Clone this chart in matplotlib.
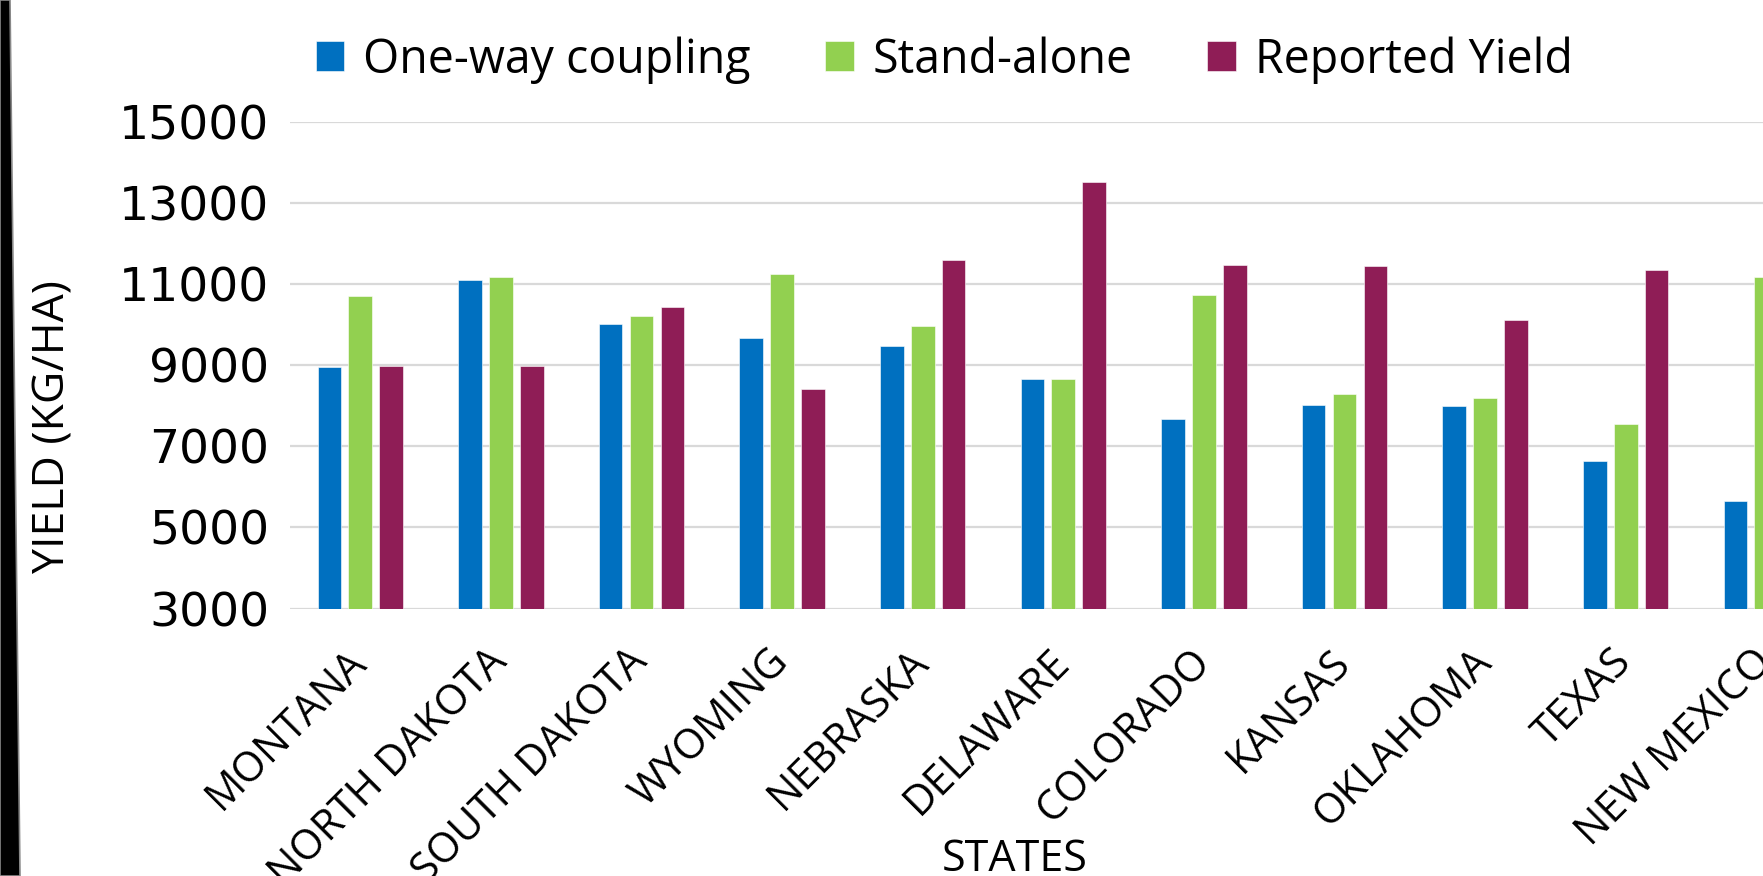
import numpy as np
import matplotlib
matplotlib.use("Agg")
import matplotlib.pyplot as plt
from matplotlib.patches import Polygon

# yield by state, kg/ha
states = ["MONTANA", "NORTH DAKOTA", "SOUTH DAKOTA", "WYOMING", "NEBRASKA",
          "DELAWARE", "COLORADO", "KANSAS", "OKLAHOMA", "TEXAS", "NEW MEXICO"]
one_way = [8950, 11100, 10010, 9670, 9460, 8660, 7670, 8010, 7980, 6640, 5660]
stand_alone = [10710, 11180, 10200, 11250, 9960, 8660, 10720, 8280, 8180, 7550, 11170]
reported = [8970, 8980, 10420, 8400, 11590, 13510, 11460, 11440, 10110, 11340, np.nan]

yticks = [3000, 5000, 7000, 9000, 11000, 13000, 15000]

colors = ["#0070C0", "#92D050", "#8F1D56"]
series = [("One-way coupling", one_way),
          ("Stand-alone", stand_alone),
          ("Reported Yield", reported)]

W, H = 1763, 876
fig = plt.figure(figsize=(W / 100, H / 100), dpi=100)

# axes run past the right edge of the figure
left_px, top_px, bottom_px = 290, 121.5, 608.6
cat_px = 140.6
n = len(states)
ax = fig.add_axes([left_px / W, 1 - bottom_px / H,
                   n * cat_px / W, (bottom_px - top_px) / H])

x = np.arange(n)
bw = 0.168
for i, (name, vals) in enumerate(series):
    ax.bar(x + (i - 1) * 0.22, vals, width=bw, color=colors[i], label=name,
           edgecolor="white", linewidth=0.4, zorder=3)

ax.set_xlim(-0.5, n - 0.5)
ax.set_ylim(3000, 15000)
ax.set_yticks(yticks)
ax.yaxis.grid(True, color="#D9D9D9", linewidth=1.6, zorder=0)
ax.set_axisbelow(True)
for s in ax.spines.values():
    s.set_visible(False)
ax.tick_params(axis="both", length=0)
ax.tick_params(axis="y", pad=15)
for lab in ax.get_yticklabels():
    lab.set_fontfamily("DejaVu Sans")
    lab.set_fontsize(34)

ax.set_xticks(x)
ax.set_xticklabels(states, rotation=45, ha="right", va="center",
                   rotation_mode="anchor", fontfamily="Open Sans", fontsize=30)
ax.tick_params(axis="x", pad=34)

fig.text(53 / W, 1 - 427 / H, "YIELD (KG/HA)", rotation=90, ha="center", va="center",
         fontsize=32, family=["Liberation Sans Narrow", "Open Sans"])
fig.text(1015 / W, 1 - 860 / H, "STATES", ha="center", va="center",
         fontsize=31, family="Open Sans")

leg = fig.legend(loc="center", bbox_to_anchor=(944 / W, 1 - 60 / H), ncol=3,
                 frameon=False, prop={"family": "Open Sans", "size": 33.5},
                 handlelength=0.62, handleheight=0.62, handletextpad=0.4,
                 columnspacing=1.6, borderaxespad=0)

# dark frame edge on the left
fig.patches.append(Polygon([(0, 0), (20 / W, 0), (10 / W, 1), (0, 1)], closed=True,
                           transform=fig.transFigure, facecolor="black",
                           edgecolor="#888888", linewidth=1.2))

fig.savefig("out.png", dpi=100)
